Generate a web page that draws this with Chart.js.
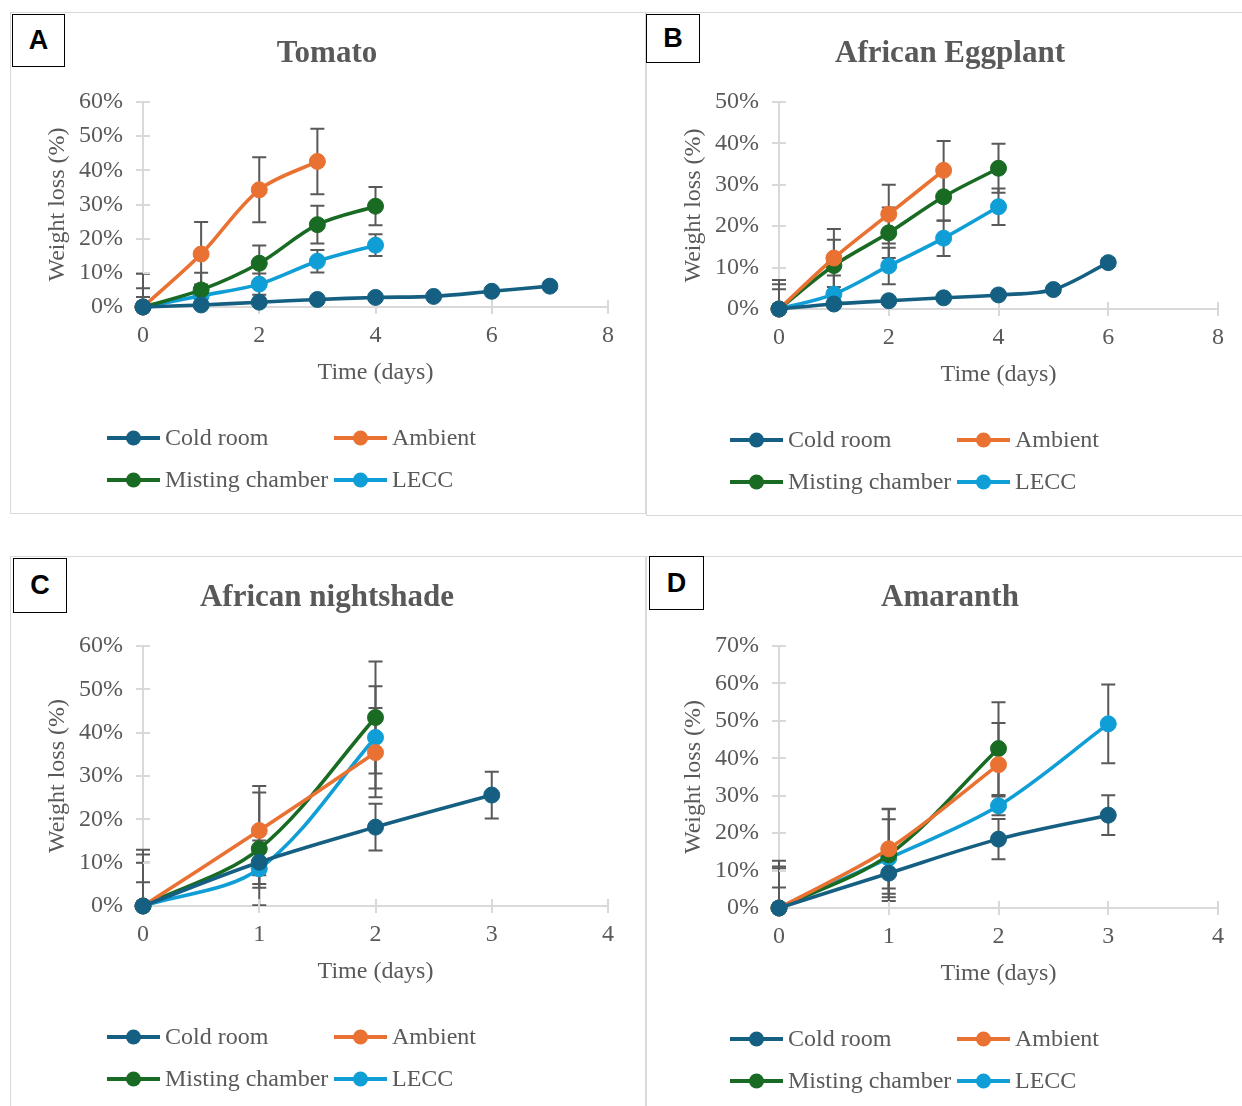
<!DOCTYPE html>
<html>
<head>
<meta charset="utf-8">
<script src="https://cdn.jsdelivr.net/npm/chart.js@4.4.1/dist/chart.umd.min.js"></script>
<style>
body{margin:0;background:#fff;width:1242px;height:1106px;position:relative;overflow:hidden;}
.panel{position:absolute;border:1.5px solid #d9d9d9;box-sizing:border-box;}
.panel canvas{position:absolute;left:-1.5px;top:-1.5px;}
.tag{position:absolute;border:1.5px solid #000;box-sizing:border-box;background:#fff;
  font:bold 27px "Liberation Sans",Arial,sans-serif;color:#000;
  display:flex;align-items:center;justify-content:center;}
</style>
</head>
<body>
<div class="panel" style="left:10px;top:12px;width:636px;height:502px"><canvas id="chartA" width="635" height="502"></canvas></div>
<div class="panel" style="left:646px;top:12px;width:600px;height:504px"><canvas id="chartB" width="596" height="504"></canvas></div>
<div class="panel" style="left:10px;top:556px;width:636px;height:560px"><canvas id="chartC" width="635" height="550"></canvas></div>
<div class="panel" style="left:646px;top:556px;width:600px;height:560px"><canvas id="chartD" width="596" height="550"></canvas></div>
<div class="tag" style="left:12px;top:14px;width:53px;height:53px">A</div>
<div class="tag" style="left:646px;top:14px;width:54px;height:49px">B</div>
<div class="tag" style="left:13px;top:558px;width:54px;height:55px">C</div>
<div class="tag" style="left:649px;top:556px;width:55px;height:54px">D</div>
<script>
// series names and colours
const seriesNames = ['Cold room', 'Ambient', 'Misting chamber', 'LECC'];
const seriesColors = ['#156082', '#E97132', '#196B24', '#0F9ED5'];

// A - Tomato (weight loss %, error = SD)
const tomatoDays = [0, 1, 2, 3, 4, 5, 6, 7];
const tomatoCold = [0, 0.6, 1.4, 2.2, 2.8, 3.1, 4.6, 6.1];
const tomatoColdErr = [0, 0.3, 0.5, 0.5, 0.6, 0.6, 0.8, 0.9];
const tomatoAmbient = [0, 15.5, 34.3, 42.6];
const tomatoAmbientErr = [9.7, 9.4, 9.5, 9.6];
const tomatoMisting = [0, 5.0, 12.8, 24.1, 29.5];
const tomatoMistingErr = [5.5, 5.0, 5.2, 5.5, 5.6];
const tomatoLecc = [0, 3.3, 6.7, 13.4, 18.1];
const tomatoLeccErr = [2.9, 3.3, 3.1, 3.3, 3.2];

// B - African Eggplant
const eggplantDays = [0, 1, 2, 3, 4, 5, 6];
const eggplantCold = [0, 1.2, 2.0, 2.7, 3.4, 4.7, 11.2];
const eggplantColdErr = [0, 0.4, 0.5, 0.6, 0.7, 0.8, 1.0];
const eggplantAmbient = [0, 12.3, 22.9, 33.5];
const eggplantAmbientErr = [7.0, 7.0, 7.1, 7.1];
const eggplantMisting = [0, 10.5, 18.4, 27.1, 34.0];
const eggplantMistingErr = [6.0, 6.2, 6.1, 5.8, 5.9];
const eggplantLecc = [0, 3.6, 10.4, 17.1, 24.7];
const eggplantLeccErr = [4.8, 4.5, 4.4, 4.3, 4.4];

// C - African nightshade
const nightshadeDays = [0, 1, 2, 3];
const nightshadeCold = [0, 10.1, 18.2, 25.6];
const nightshadeColdErr = [5.5, 5.0, 5.4, 5.4];
const nightshadeAmbient = [0, 17.4, 35.4];
const nightshadeAmbientErr = [10.0, 10.3, 10.3];
const nightshadeMisting = [0, 13.2, 43.5];
const nightshadeMistingErr = [13.0, 13.0, 12.9];
const nightshadeLecc = [0, 8.6, 38.9];
const nightshadeLeccErr = [11.9, 4.4, 11.8];

// D - Amaranth
const amaranthDays = [0, 1, 2, 3];
const amaranthCold = [0, 9.3, 18.4, 24.8];
const amaranthColdErr = [5.5, 5.5, 5.4, 5.3];
const amaranthAmbient = [0, 15.8, 38.3];
const amaranthAmbientErr = [10.6, 10.6, 11.1];
const amaranthMisting = [0, 14.2, 42.6];
const amaranthMistingErr = [12.6, 12.3, 12.4];
const amaranthLecc = [0, 13.3, 27.3, 49.2];
const amaranthLeccErr = [11.1, 10.4, 2.5, 10.5];

const GREY = '#595959';
const AXIS = '#d9d9d9';
const SERIF = "'Liberation Serif', 'Times New Roman', serif";

function points(days, vals){
    return vals.map((v, i) => ({x: days[i], y: v}));
}

// error bars, drawn under the lines and markers
const errorBars = {
    id: 'errorBars',
    beforeDatasetsDraw(chart){
        const {ctx, chartArea, scales: {x, y}} = chart;
        ctx.save();
        ctx.beginPath();
        ctx.rect(chartArea.left - 10, chartArea.top - 2, chartArea.width + 20, chartArea.height + 2);
        ctx.clip();
        ctx.strokeStyle = GREY;
        ctx.lineWidth = 2;
        chart.data.datasets.forEach(ds => {
            (ds.errors || []).forEach((e, i) => {
                if (!e) return;
                const p = ds.data[i];
                const px = x.getPixelForValue(p.x);
                const top = y.getPixelForValue(p.y + e);
                const bot = y.getPixelForValue(p.y - e);
                ctx.beginPath();
                ctx.moveTo(px, top); ctx.lineTo(px, bot);
                ctx.moveTo(px - 7, top); ctx.lineTo(px + 7, top);
                ctx.moveTo(px - 7, bot); ctx.lineTo(px + 7, bot);
                ctx.stroke();
            });
        });
        ctx.restore();
    }
};

// tick marks crossing the axis lines (inner half)
const crossTicks = {
    id: 'crossTicks',
    beforeDatasetsDraw(chart){
        const {ctx, chartArea, scales: {x, y}} = chart;
        ctx.save();
        ctx.strokeStyle = AXIS;
        ctx.lineWidth = 2;
        ctx.beginPath();
        x.ticks.forEach(t => {
            const px = Math.round(x.getPixelForValue(t.value));
            ctx.moveTo(px, chartArea.bottom); ctx.lineTo(px, chartArea.bottom - 7);
        });
        y.ticks.forEach(t => {
            const py = Math.round(y.getPixelForValue(t.value));
            ctx.moveTo(chartArea.left, py); ctx.lineTo(chartArea.left + 7, py);
        });
        ctx.stroke();
        ctx.restore();
    }
};

// two-column legend under the axis title
const gridLegend = {
    id: 'gridLegend',
    afterDraw(chart, args, opts){
        const {ctx, chartArea} = chart;
        ctx.save();
        ctx.font = '24px ' + SERIF;
        ctx.textBaseline = 'middle';
        chart.data.datasets.forEach((ds, i) => {
            const x0 = opts.left + (i % 2) * 227;
            const y0 = chartArea.bottom + (i < 2 ? 131 : 173);
            ctx.strokeStyle = ds.borderColor;
            ctx.lineWidth = 4;
            ctx.beginPath();
            ctx.moveTo(x0, y0); ctx.lineTo(x0 + 53, y0);
            ctx.stroke();
            ctx.fillStyle = ds.borderColor;
            ctx.beginPath();
            ctx.arc(x0 + 26.5, y0, 7.5, 0, Math.PI * 2);
            ctx.fill();
            ctx.fillStyle = GREY;
            ctx.fillText(ds.label, x0 + 58, y0 + 1);
        });
        ctx.restore();
    }
};

function createPanel(id, title, days, series, errors, xMax, xStep, yMax, padR, padB, legendLeft){
    const datasets = series.map((vals, i) => ({
        label: seriesNames[i],
        data: points(days, vals),
        errors: errors[i],
        borderColor: seriesColors[i],
        backgroundColor: seriesColors[i],
        pointBackgroundColor: seriesColors[i],
        pointBorderColor: seriesColors[i],
        pointRadius: 8,
        pointBorderWidth: 1,
        borderWidth: 3.6,
        tension: 0.33,
        clip: false
    }));

    return new Chart(document.getElementById(id), {
        type: 'line',
        data: {datasets: datasets},
        options: {
            responsive: false,
            animation: false,
            devicePixelRatio: 1,
            layout: {padding: {left: 36, right: padR, top: 0, bottom: padB}},
            plugins: {
                legend: {display: false},
                tooltip: {enabled: false},
                title: {
                    display: true,
                    text: title,
                    color: GREY,
                    font: {family: SERIF, size: 31, weight: 'bold'},
                    padding: {top: 23.4, bottom: 29.4}
                },
                gridLegend: {left: legendLeft}
            },
            scales: {
                x: {
                    type: 'linear',
                    min: 0,
                    max: xMax,
                    ticks: {stepSize: xStep, color: GREY, font: {family: SERIF, size: 24}, padding: 7},
                    grid: {drawOnChartArea: false, color: AXIS, lineWidth: 2, tickLength: 7},
                    border: {color: AXIS, width: 2},
                    title: {display: true, text: 'Time (days)', color: GREY, font: {family: SERIF, size: 24}, padding: 0},
                    afterFit(s){ s.height = 80; }
                },
                y: {
                    min: 0,
                    max: yMax,
                    ticks: {stepSize: 10, color: GREY, font: {family: SERIF, size: 24}, padding: 13,
                        callback: v => v + '%'},
                    grid: {drawOnChartArea: false, color: AXIS, lineWidth: 2, tickLength: 7},
                    border: {color: AXIS, width: 2},
                    title: {display: true, text: 'Weight loss (%)', color: GREY, font: {family: SERIF, size: 24}, padding: {top: -3}},
                    afterFit(s){ s.width = 97; }
                }
            }
        },
        plugins: [errorBars, crossTicks, gridLegend]
    });
}

createPanel('chartA', 'Tomato', tomatoDays,
    [tomatoCold, tomatoAmbient, tomatoMisting, tomatoLecc],
    [tomatoColdErr, tomatoAmbientErr, tomatoMistingErr, tomatoLeccErr],
    8, 2, 60, 37, 127, 97);

createPanel('chartB', 'African Eggplant', eggplantDays,
    [eggplantCold, eggplantAmbient, eggplantMisting, eggplantLecc],
    [eggplantColdErr, eggplantAmbientErr, eggplantMistingErr, eggplantLeccErr],
    8, 2, 50, 24, 127, 84);

createPanel('chartC', 'African nightshade', nightshadeDays,
    [nightshadeCold, nightshadeAmbient, nightshadeMisting, nightshadeLecc],
    [nightshadeColdErr, nightshadeAmbientErr, nightshadeMistingErr, nightshadeLeccErr],
    4, 1, 60, 37, 120, 97);

createPanel('chartD', 'Amaranth', amaranthDays,
    [amaranthCold, amaranthAmbient, amaranthMisting, amaranthLecc],
    [amaranthColdErr, amaranthAmbientErr, amaranthMistingErr, amaranthLeccErr],
    4, 1, 70, 24, 118, 84);
</script>
</body>
</html>
